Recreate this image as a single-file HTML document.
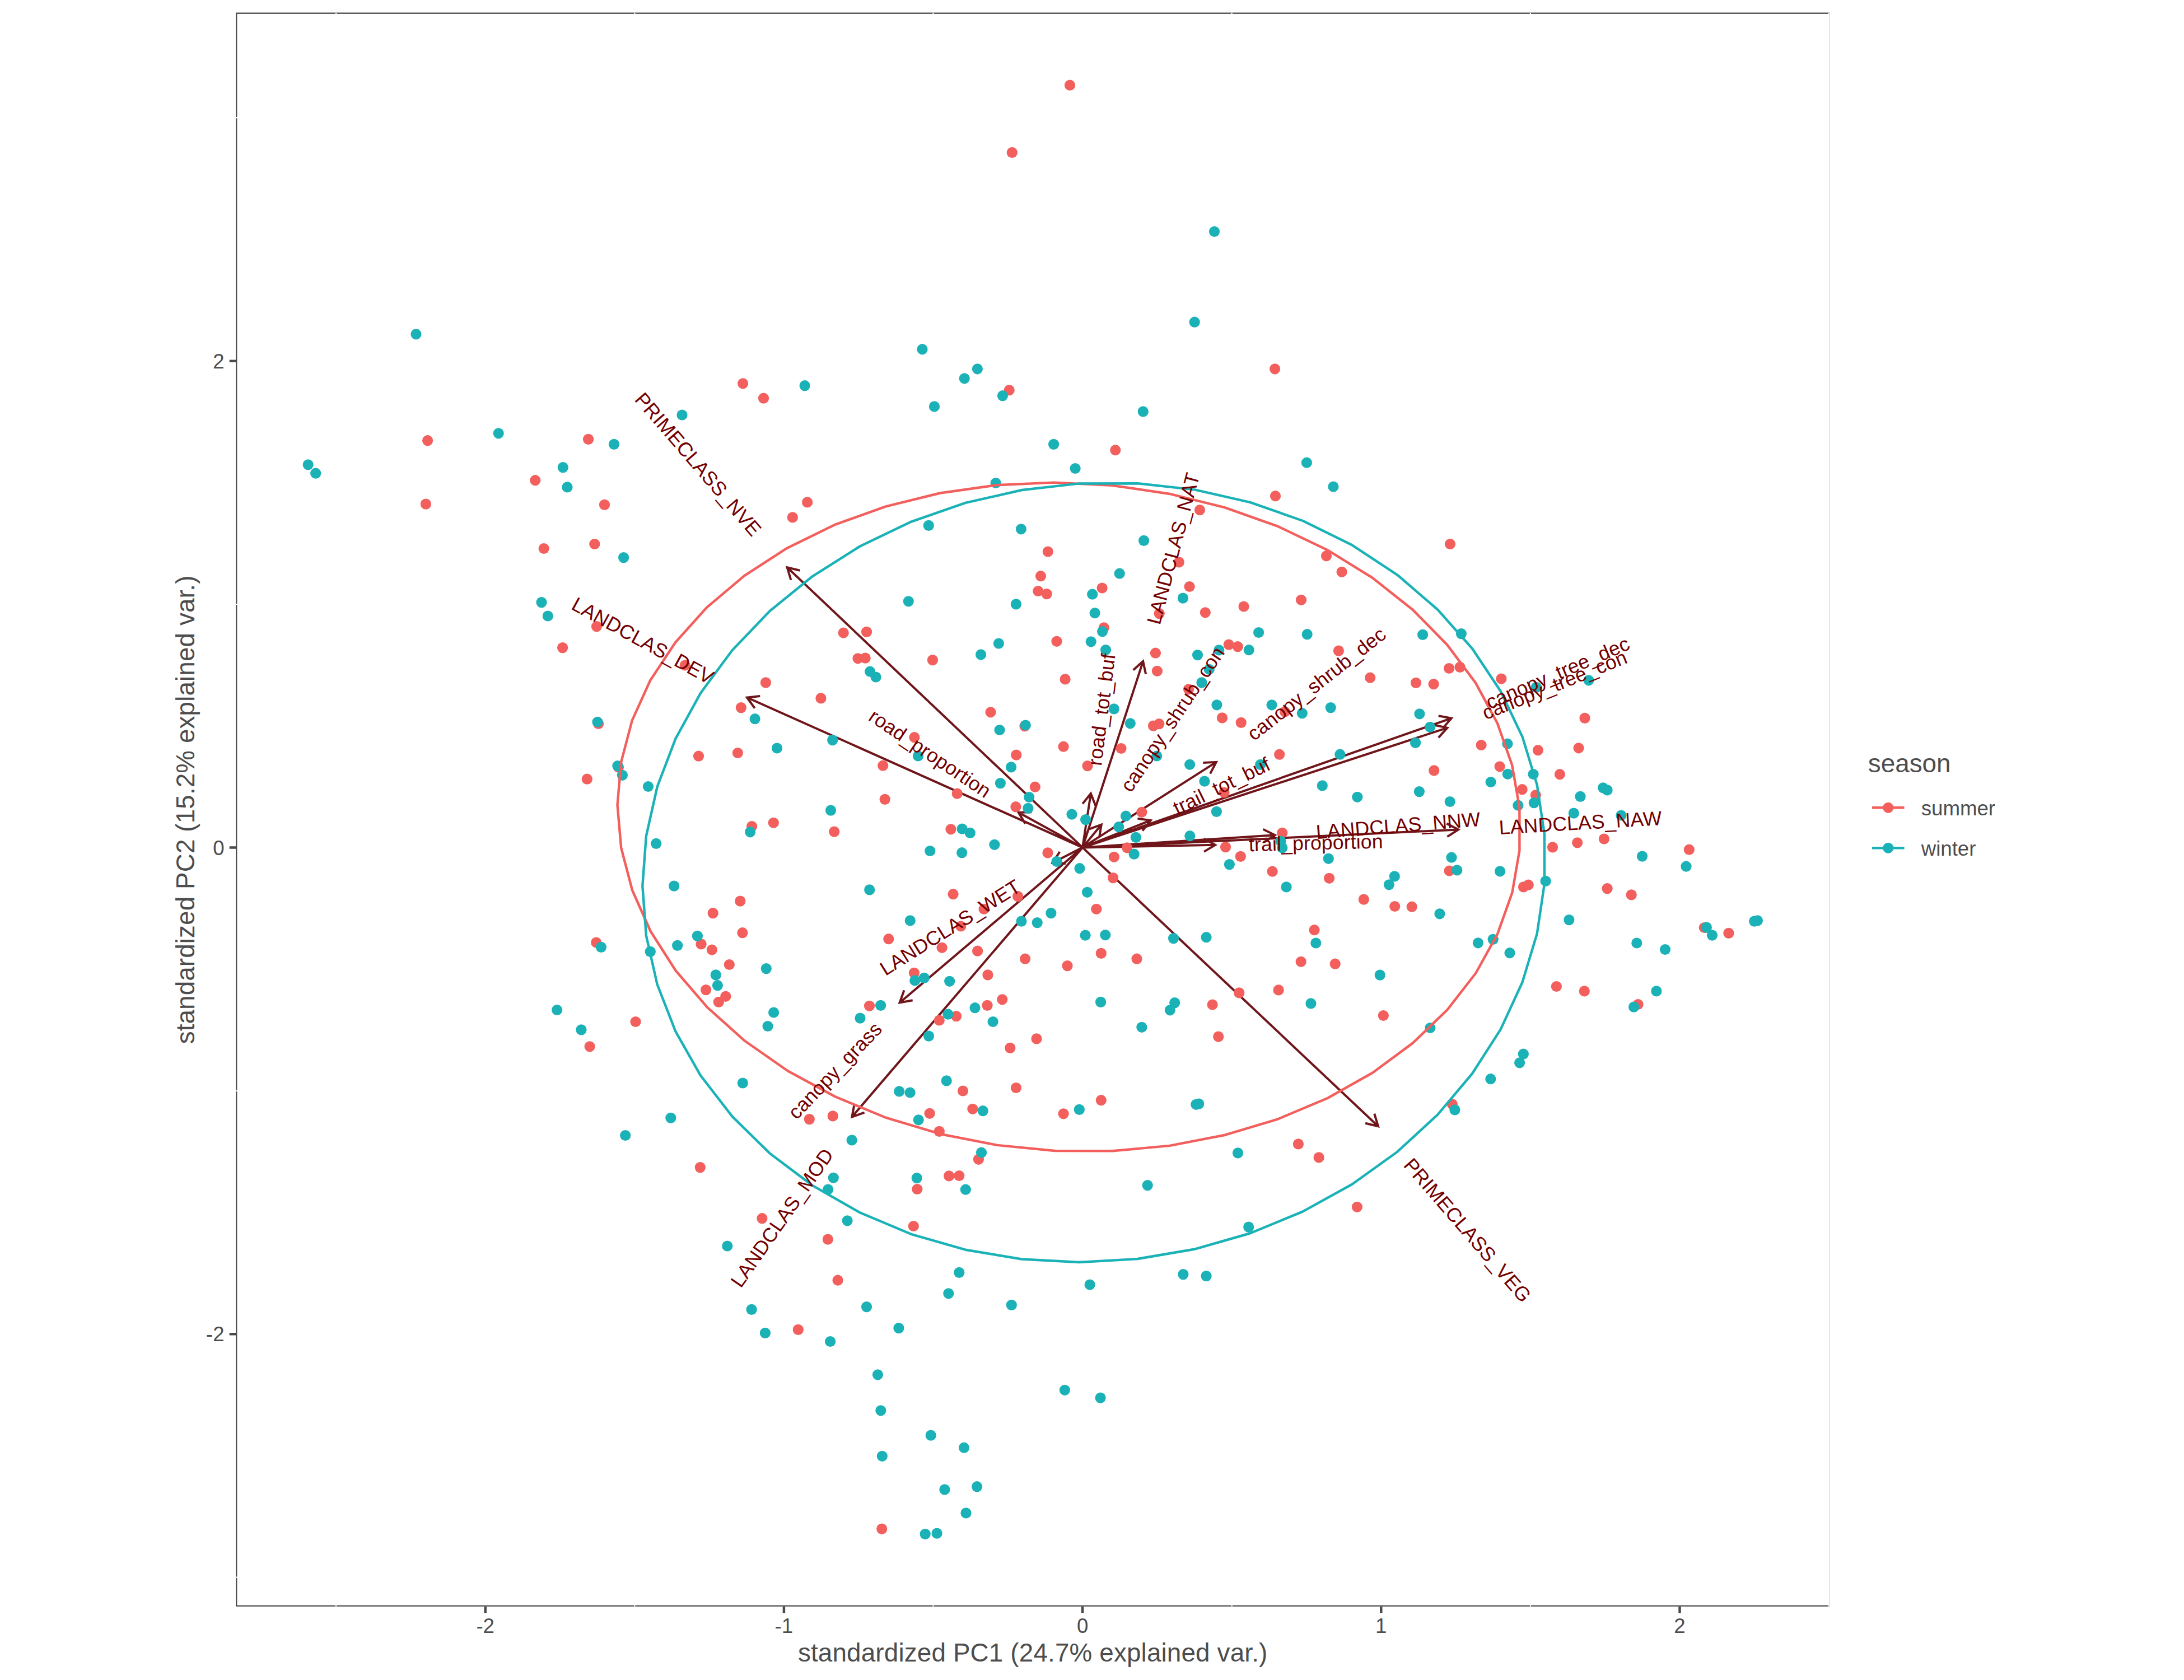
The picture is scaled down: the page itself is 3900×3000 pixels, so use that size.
<!DOCTYPE html>
<html lang="en"><head><meta charset="utf-8"><title>PCA biplot</title>
<style>html,body{margin:0;padding:0;background:#fff}svg{display:block}text{font-family:"Liberation Sans",Arial,Helvetica,sans-serif}</style></head><body>
<svg width="3900" height="3000" viewBox="0 0 3900 3000">
<rect width="3900" height="3000" fill="#fff"/>
<defs><clipPath id="pc"><rect x="421.2" y="22.6" width="2846.3" height="2846.2000000000003"/></clipPath></defs>
<g clip-path="url(#pc)">
<rect x="421.2" y="22.6" width="2846.3" height="2846.2000000000003" fill="none" stroke="#4A4A4A" stroke-width="4.45"/>
<path d="M600.1 22.6V2868.8M1133.3 22.6V2868.8M1666.5 22.6V2868.8M2199.7 22.6V2868.8M2732.9 22.6V2868.8M3266.1 22.6V2868.8M421.2 2816.6H3267.5M421.2 1947.8H3267.5M421.2 1079.0H3267.5M421.2 210.2H3267.5" stroke="#fff" stroke-width="2.2" fill="none"/>
<path d="M3266.25 22.6V2868.8" stroke="#fff" stroke-width="2.7" fill="none"/>
<path d="M1933.1 1513.4L1405.7024153063905 1013.252450796877M1412.4 1035.8L1405.7024153063905 1013.252450796877L1428.6 1018.7M1933.1 1513.4L1333.9516651063066 1245.5325875019073M1347.7 1264.6L1333.9516651063066 1245.5325875019073L1357.3 1243.1M1933.1 1513.4L1818.7091908473665 1450.8197863414348M1830.9 1470.9L1818.7091908473665 1450.8197863414348L1842.2 1450.3M1933.1 1513.4L1947.8935468421626 1416.9537595484992M1933.2 1435.3L1947.8935468421626 1416.9537595484992L1956.4 1438.9M1933.1 1513.4L2041.1639625637813 1180.8042359885087M2023.7 1196.5L2041.1639625637813 1180.8042359885087L2046.1 1203.8M1933.1 1513.4L1966.7586477156199 1472.488936478252M1944.8 1480.7L1966.7586477156199 1472.488936478252L1962.9 1495.7M1933.1 1513.4L2171.829372884818 1360.8538042739308M2148.4 1361.9L2171.829372884818 1360.8538042739308L2161.0 1381.7M1933.1 1513.4L2054.683847575626 1464.979936200928M2031.4 1461.6L2054.683847575626 1464.979936200928L2040.1 1483.4M1933.1 1513.4L2591.825144338618 1282.5230512974686M2568.7 1278.2L2591.825144338618 1282.5230512974686L2576.5 1300.3M1933.1 1513.4L2584.4993916235726 1299.6471471320694M2561.5 1294.8L2584.4993916235726 1299.6471471320694L2568.8 1317.2M1933.1 1513.4L2276.6083583875047 1491.1584516151977M2255.5 1480.7L2276.6083583875047 1491.1584516151977L2257.1 1504.2M1933.1 1513.4L2604.204542189925 1481.3905699029542M2583.3 1470.6L2604.204542189925 1481.3905699029542L2584.4 1494.1M1933.1 1513.4L2170.1007604449255 1508.7779934685016M2149.5 1497.4L2170.1007604449255 1508.7779934685016L2150.0 1520.9M1933.1 1513.4L1879.561345473354 1540.7787865530308M1903.0 1542.0L1879.561345473354 1540.7787865530308L1892.3 1521.1M1933.1 1513.4L1606.5498567067386 1790.5118782740449M1629.7 1786.3L1606.5498567067386 1790.5118782740449L1614.5 1768.4M1933.1 1513.4L1521.4008382997615 1994.4609803984683M1543.6 1986.6L1521.4008382997615 1994.4609803984683L1525.7 1971.4M1933.1 1513.4L2460.990002042075 2011.2555671105176M2454.2 1988.7L2460.990002042075 2011.2555671105176L2438.1 2005.8" stroke="#70161B" stroke-width="4.0" fill="none" stroke-linejoin="miter" stroke-miterlimit="10"/>
<g fill="#F25F5C"><circle cx="1910.5" cy="152.2" r="9.6"/><circle cx="1807.3" cy="272.4" r="9.6"/><circle cx="763.6" cy="786.7" r="9.6"/><circle cx="760.4" cy="900.1" r="9.6"/><circle cx="1050.6" cy="784.4" r="9.6"/><circle cx="955.8" cy="857.7" r="9.6"/><circle cx="1079.5" cy="901.4" r="9.6"/><circle cx="971.2" cy="979.5" r="9.6"/><circle cx="1061.8" cy="971.5" r="9.6"/><circle cx="1326.6" cy="684.8" r="9.6"/><circle cx="1363.5" cy="711.2" r="9.6"/><circle cx="1441.6" cy="896.9" r="9.6"/><circle cx="1415.3" cy="923.9" r="9.6"/><circle cx="1802.2" cy="696.7" r="9.6"/><circle cx="2276.6" cy="658.8" r="9.6"/><circle cx="1991.8" cy="803.7" r="9.6"/><circle cx="2277.5" cy="885.7" r="9.6"/><circle cx="2142.5" cy="910.7" r="9.6"/><circle cx="1871.3" cy="985.0" r="9.6"/><circle cx="2105.3" cy="1003.9" r="9.6"/><circle cx="1858.4" cy="1028.7" r="9.6"/><circle cx="2368.5" cy="992.7" r="9.6"/><circle cx="2396.1" cy="1021.3" r="9.6"/><circle cx="2589.5" cy="971.5" r="9.6"/><circle cx="1065.4" cy="1118.7" r="9.6"/><circle cx="1004.6" cy="1156.6" r="9.6"/><circle cx="1068.6" cy="1292.5" r="9.6"/><circle cx="1048.3" cy="1391.2" r="9.6"/><circle cx="1506.2" cy="1130.0" r="9.6"/><circle cx="1547.5" cy="1128.4" r="9.6"/><circle cx="1531.9" cy="1175.8" r="9.6"/><circle cx="1545.2" cy="1175.1" r="9.6"/><circle cx="1223.2" cy="1188.0" r="9.6"/><circle cx="1367.4" cy="1218.9" r="9.6"/><circle cx="1465.9" cy="1246.9" r="9.6"/><circle cx="1323.4" cy="1263.6" r="9.6"/><circle cx="1247.5" cy="1350.2" r="9.6"/><circle cx="1317.4" cy="1344.5" r="9.6"/><circle cx="1104.5" cy="1370.1" r="9.6"/><circle cx="1853.8" cy="1055.5" r="9.6"/><circle cx="1869.1" cy="1060.6" r="9.6"/><circle cx="1968.1" cy="1050.0" r="9.6"/><circle cx="1971.3" cy="1120.8" r="9.6"/><circle cx="1887.0" cy="1145.3" r="9.6"/><circle cx="1665.4" cy="1178.6" r="9.6"/><circle cx="1902.1" cy="1212.9" r="9.6"/><circle cx="1769.0" cy="1271.8" r="9.6"/><circle cx="1829.9" cy="1296.6" r="9.6"/><circle cx="1632.9" cy="1316.7" r="9.6"/><circle cx="1899.1" cy="1333.2" r="9.6"/><circle cx="1814.8" cy="1348.1" r="9.6"/><circle cx="1576.7" cy="1367.2" r="9.6"/><circle cx="1942.0" cy="1367.6" r="9.6"/><circle cx="2002.0" cy="1336.5" r="9.6"/><circle cx="2124.1" cy="1047.5" r="9.6"/><circle cx="2070.2" cy="1095.6" r="9.6"/><circle cx="2152.3" cy="1093.8" r="9.6"/><circle cx="2221.0" cy="1083.0" r="9.6"/><circle cx="2323.5" cy="1071.3" r="9.6"/><circle cx="2063.4" cy="1166.2" r="9.6"/><circle cx="2066.4" cy="1198.3" r="9.6"/><circle cx="2194.2" cy="1151.1" r="9.6"/><circle cx="2210.3" cy="1154.7" r="9.6"/><circle cx="2390.4" cy="1162.1" r="9.6"/><circle cx="2446.7" cy="1210.2" r="9.6"/><circle cx="2528.5" cy="1219.4" r="9.6"/><circle cx="2122.5" cy="1230.8" r="9.6"/><circle cx="2182.5" cy="1281.9" r="9.6"/><circle cx="2216.2" cy="1290.4" r="9.6"/><circle cx="2294.4" cy="1270.9" r="9.6"/><circle cx="2059.5" cy="1296.1" r="9.6"/><circle cx="2069.8" cy="1292.7" r="9.6"/><circle cx="2284.7" cy="1347.2" r="9.6"/><circle cx="2560.1" cy="1221.6" r="9.6"/><circle cx="2587.6" cy="1193.5" r="9.6"/><circle cx="2607.1" cy="1191.4" r="9.6"/><circle cx="2680.9" cy="1212.0" r="9.6"/><circle cx="2830.0" cy="1282.4" r="9.6"/><circle cx="2645.1" cy="1330.5" r="9.6"/><circle cx="2746.4" cy="1339.7" r="9.6"/><circle cx="2819.0" cy="1335.8" r="9.6"/><circle cx="2560.8" cy="1375.9" r="9.6"/><circle cx="2678.1" cy="1368.8" r="9.6"/><circle cx="2785.4" cy="1382.7" r="9.6"/><circle cx="1064.7" cy="1683.0" r="9.6"/><circle cx="1053.1" cy="1868.8" r="9.6"/><circle cx="1342.6" cy="1475.5" r="9.6"/><circle cx="1381.3" cy="1469.3" r="9.6"/><circle cx="1489.7" cy="1485.1" r="9.6"/><circle cx="1321.8" cy="1609.1" r="9.6"/><circle cx="1273.2" cy="1630.6" r="9.6"/><circle cx="1325.9" cy="1665.7" r="9.6"/><circle cx="1252.1" cy="1685.9" r="9.6"/><circle cx="1271.3" cy="1696.0" r="9.6"/><circle cx="1302.3" cy="1722.5" r="9.6"/><circle cx="1580.2" cy="1427.4" r="9.6"/><circle cx="1709.2" cy="1417.1" r="9.6"/><circle cx="1848.3" cy="1405.2" r="9.6"/><circle cx="1813.9" cy="1440.7" r="9.6"/><circle cx="2038.9" cy="1450.3" r="9.6"/><circle cx="1697.9" cy="1480.8" r="9.6"/><circle cx="1871.0" cy="1522.9" r="9.6"/><circle cx="2012.6" cy="1513.8" r="9.6"/><circle cx="1989.4" cy="1530.3" r="9.6"/><circle cx="1987.6" cy="1567.6" r="9.6"/><circle cx="1702.1" cy="1596.7" r="9.6"/><circle cx="1817.6" cy="1600.6" r="9.6"/><circle cx="1757.1" cy="1623.3" r="9.6"/><circle cx="1957.8" cy="1623.3" r="9.6"/><circle cx="1715.8" cy="1654.0" r="9.6"/><circle cx="1586.8" cy="1676.7" r="9.6"/><circle cx="1682.1" cy="1692.3" r="9.6"/><circle cx="1745.6" cy="1698.2" r="9.6"/><circle cx="1830.6" cy="1712.2" r="9.6"/><circle cx="1966.3" cy="1702.4" r="9.6"/><circle cx="2030.0" cy="1712.2" r="9.6"/><circle cx="1906.0" cy="1724.6" r="9.6"/><circle cx="1632.4" cy="1737.4" r="9.6"/><circle cx="1763.9" cy="1740.9" r="9.6"/><circle cx="2186.0" cy="1415.2" r="9.6"/><circle cx="2289.8" cy="1487.4" r="9.6"/><circle cx="2188.5" cy="1512.6" r="9.6"/><circle cx="2215.3" cy="1529.4" r="9.6"/><circle cx="2272.1" cy="1556.2" r="9.6"/><circle cx="2373.6" cy="1568.3" r="9.6"/><circle cx="2435.3" cy="1606.1" r="9.6"/><circle cx="2490.7" cy="1618.5" r="9.6"/><circle cx="2521.2" cy="1619.2" r="9.6"/><circle cx="2347.1" cy="1660.7" r="9.6"/><circle cx="2323.2" cy="1717.3" r="9.6"/><circle cx="2384.2" cy="1721.2" r="9.6"/><circle cx="2718.2" cy="1409.7" r="9.6"/><circle cx="2742.3" cy="1419.8" r="9.6"/><circle cx="2772.5" cy="1512.9" r="9.6"/><circle cx="2816.7" cy="1504.8" r="9.6"/><circle cx="2864.4" cy="1498.0" r="9.6"/><circle cx="2588.1" cy="1555.0" r="9.6"/><circle cx="2720.5" cy="1583.9" r="9.6"/><circle cx="2729.2" cy="1580.2" r="9.6"/><circle cx="2870.1" cy="1586.6" r="9.6"/><circle cx="2913.2" cy="1597.9" r="9.6"/><circle cx="2779.4" cy="1761.5" r="9.6"/><circle cx="3016.3" cy="1517.2" r="9.6"/><circle cx="3043.3" cy="1656.5" r="9.6"/><circle cx="3086.9" cy="1666.4" r="9.6"/><circle cx="1260.6" cy="1767.6" r="9.6"/><circle cx="1295.9" cy="1779.3" r="9.6"/><circle cx="1283.3" cy="1789.4" r="9.6"/><circle cx="1135.0" cy="1824.5" r="9.6"/><circle cx="1552.5" cy="1796.3" r="9.6"/><circle cx="1445.3" cy="1998.6" r="9.6"/><circle cx="1487.2" cy="1992.9" r="9.6"/><circle cx="1250.3" cy="2084.6" r="9.6"/><circle cx="1789.8" cy="1784.8" r="9.6"/><circle cx="1763.0" cy="1795.4" r="9.6"/><circle cx="1707.6" cy="1814.6" r="9.6"/><circle cx="1677.3" cy="1822.0" r="9.6"/><circle cx="1851.0" cy="1854.9" r="9.6"/><circle cx="1803.8" cy="1871.4" r="9.6"/><circle cx="1814.4" cy="1942.5" r="9.6"/><circle cx="1719.5" cy="1948.0" r="9.6"/><circle cx="1736.9" cy="1980.3" r="9.6"/><circle cx="1660.1" cy="1988.3" r="9.6"/><circle cx="1966.3" cy="1964.7" r="9.6"/><circle cx="1899.1" cy="1988.8" r="9.6"/><circle cx="1677.3" cy="2020.4" r="9.6"/><circle cx="1747.4" cy="2070.3" r="9.6"/><circle cx="1694.7" cy="2099.9" r="9.6"/><circle cx="1712.8" cy="2099.5" r="9.6"/><circle cx="1637.9" cy="2123.5" r="9.6"/><circle cx="2212.8" cy="1772.9" r="9.6"/><circle cx="2283.1" cy="1767.9" r="9.6"/><circle cx="2165.1" cy="1794.0" r="9.6"/><circle cx="2175.7" cy="1851.1" r="9.6"/><circle cx="2470.3" cy="1813.5" r="9.6"/><circle cx="2318.4" cy="2042.9" r="9.6"/><circle cx="2355.1" cy="2066.9" r="9.6"/><circle cx="2829.3" cy="1769.9" r="9.6"/><circle cx="2925.1" cy="1793.5" r="9.6"/><circle cx="2593.3" cy="1971.8" r="9.6"/><circle cx="1360.9" cy="2175.7" r="9.6"/><circle cx="1478.3" cy="2213.1" r="9.6"/><circle cx="1496.1" cy="2286.2" r="9.6"/><circle cx="1425.3" cy="2374.4" r="9.6"/><circle cx="1631.3" cy="2189.5" r="9.6"/><circle cx="2423.4" cy="2155.3" r="9.6"/><circle cx="1574.7" cy="2730.1" r="9.6"/></g>
<g fill="#1AB2B7"><circle cx="2168.5" cy="413.5" r="9.6"/><circle cx="2133.2" cy="575.2" r="9.6"/><circle cx="743.0" cy="596.7" r="9.6"/><circle cx="550.2" cy="829.8" r="9.6"/><circle cx="563.7" cy="845.2" r="9.6"/><circle cx="890.2" cy="773.8" r="9.6"/><circle cx="1096.5" cy="793.4" r="9.6"/><circle cx="1005.3" cy="834.6" r="9.6"/><circle cx="1013.0" cy="869.9" r="9.6"/><circle cx="1113.6" cy="995.6" r="9.6"/><circle cx="1647.0" cy="623.7" r="9.6"/><circle cx="1745.4" cy="658.8" r="9.6"/><circle cx="1722.2" cy="675.8" r="9.6"/><circle cx="1790.4" cy="706.7" r="9.6"/><circle cx="1668.5" cy="725.9" r="9.6"/><circle cx="1437.1" cy="688.7" r="9.6"/><circle cx="1218.0" cy="741.0" r="9.6"/><circle cx="1778.1" cy="862.5" r="9.6"/><circle cx="1658.3" cy="938.4" r="9.6"/><circle cx="2041.3" cy="734.9" r="9.6"/><circle cx="1881.6" cy="793.4" r="9.6"/><circle cx="1920.1" cy="836.5" r="9.6"/><circle cx="2333.4" cy="826.2" r="9.6"/><circle cx="2381.0" cy="869.0" r="9.6"/><circle cx="1823.4" cy="944.8" r="9.6"/><circle cx="2042.6" cy="965.4" r="9.6"/><circle cx="1999.2" cy="1024.2" r="9.6"/><circle cx="967.0" cy="1075.6" r="9.6"/><circle cx="978.3" cy="1100.0" r="9.6"/><circle cx="1067.0" cy="1289.3" r="9.6"/><circle cx="1553.6" cy="1199.2" r="9.6"/><circle cx="1564.0" cy="1209.0" r="9.6"/><circle cx="1348.1" cy="1283.7" r="9.6"/><circle cx="1486.7" cy="1321.6" r="9.6"/><circle cx="1387.5" cy="1336.0" r="9.6"/><circle cx="1102.9" cy="1367.6" r="9.6"/><circle cx="1111.4" cy="1384.3" r="9.6"/><circle cx="1622.3" cy="1073.8" r="9.6"/><circle cx="1814.4" cy="1078.9" r="9.6"/><circle cx="1950.7" cy="1061.2" r="9.6"/><circle cx="1955.1" cy="1094.7" r="9.6"/><circle cx="1968.6" cy="1127.7" r="9.6"/><circle cx="1948.2" cy="1145.8" r="9.6"/><circle cx="1783.4" cy="1149.0" r="9.6"/><circle cx="1751.6" cy="1168.9" r="9.6"/><circle cx="1974.5" cy="1160.5" r="9.6"/><circle cx="1989.2" cy="1265.9" r="9.6"/><circle cx="1831.3" cy="1295.0" r="9.6"/><circle cx="1785.0" cy="1303.5" r="9.6"/><circle cx="2018.3" cy="1291.8" r="9.6"/><circle cx="1639.5" cy="1350.0" r="9.6"/><circle cx="1805.6" cy="1369.9" r="9.6"/><circle cx="1786.4" cy="1398.6" r="9.6"/><circle cx="2112.4" cy="1068.1" r="9.6"/><circle cx="2247.6" cy="1129.5" r="9.6"/><circle cx="2334.2" cy="1132.7" r="9.6"/><circle cx="2176.8" cy="1160.9" r="9.6"/><circle cx="2230.2" cy="1160.7" r="9.6"/><circle cx="2138.5" cy="1169.6" r="9.6"/><circle cx="2159.2" cy="1195.3" r="9.6"/><circle cx="2145.9" cy="1218.9" r="9.6"/><circle cx="2172.9" cy="1258.8" r="9.6"/><circle cx="2271.0" cy="1258.8" r="9.6"/><circle cx="2325.3" cy="1273.7" r="9.6"/><circle cx="2376.2" cy="1263.6" r="9.6"/><circle cx="2065.7" cy="1350.0" r="9.6"/><circle cx="2124.6" cy="1365.3" r="9.6"/><circle cx="2250.8" cy="1365.3" r="9.6"/><circle cx="2527.6" cy="1326.4" r="9.6"/><circle cx="2392.9" cy="1347.2" r="9.6"/><circle cx="2150.9" cy="1395.1" r="9.6"/><circle cx="2540.6" cy="1133.4" r="9.6"/><circle cx="2609.4" cy="1131.6" r="9.6"/><circle cx="2743.4" cy="1227.4" r="9.6"/><circle cx="2836.9" cy="1214.8" r="9.6"/><circle cx="2534.9" cy="1274.8" r="9.6"/><circle cx="2553.7" cy="1298.4" r="9.6"/><circle cx="2691.9" cy="1328.2" r="9.6"/><circle cx="2692.3" cy="1382.3" r="9.6"/><circle cx="2738.1" cy="1382.5" r="9.6"/><circle cx="2662.1" cy="1396.5" r="9.6"/><circle cx="1073.4" cy="1691.4" r="9.6"/><circle cx="994.7" cy="1803.5" r="9.6"/><circle cx="1038.0" cy="1838.9" r="9.6"/><circle cx="1157.5" cy="1404.5" r="9.6"/><circle cx="1483.5" cy="1447.1" r="9.6"/><circle cx="1339.6" cy="1485.8" r="9.6"/><circle cx="1171.7" cy="1506.4" r="9.6"/><circle cx="1203.7" cy="1582.1" r="9.6"/><circle cx="1552.7" cy="1588.9" r="9.6"/><circle cx="1245.4" cy="1671.4" r="9.6"/><circle cx="1209.7" cy="1688.4" r="9.6"/><circle cx="1161.3" cy="1699.4" r="9.6"/><circle cx="1368.3" cy="1729.6" r="9.6"/><circle cx="1278.2" cy="1740.9" r="9.6"/><circle cx="1281.4" cy="1759.7" r="9.6"/><circle cx="1837.7" cy="1423.5" r="9.6"/><circle cx="1835.9" cy="1443.4" r="9.6"/><circle cx="1914.0" cy="1454.2" r="9.6"/><circle cx="1938.6" cy="1463.6" r="9.6"/><circle cx="2010.5" cy="1457.2" r="9.6"/><circle cx="1997.7" cy="1476.7" r="9.6"/><circle cx="1718.1" cy="1480.1" r="9.6"/><circle cx="1732.3" cy="1487.4" r="9.6"/><circle cx="2028.4" cy="1495.4" r="9.6"/><circle cx="1775.9" cy="1508.3" r="9.6"/><circle cx="1660.8" cy="1519.5" r="9.6"/><circle cx="1717.7" cy="1522.7" r="9.6"/><circle cx="2025.2" cy="1525.2" r="9.6"/><circle cx="1887.0" cy="1538.5" r="9.6"/><circle cx="1928.0" cy="1550.7" r="9.6"/><circle cx="1941.5" cy="1593.3" r="9.6"/><circle cx="1876.9" cy="1630.6" r="9.6"/><circle cx="1625.3" cy="1643.9" r="9.6"/><circle cx="1824.0" cy="1645.1" r="9.6"/><circle cx="1852.2" cy="1647.6" r="9.6"/><circle cx="1938.1" cy="1670.1" r="9.6"/><circle cx="1973.8" cy="1669.6" r="9.6"/><circle cx="1633.8" cy="1750.9" r="9.6"/><circle cx="1650.3" cy="1746.4" r="9.6"/><circle cx="1695.7" cy="1752.3" r="9.6"/><circle cx="2361.3" cy="1402.9" r="9.6"/><circle cx="2423.8" cy="1423.3" r="9.6"/><circle cx="2172.4" cy="1449.4" r="9.6"/><circle cx="2124.8" cy="1492.7" r="9.6"/><circle cx="2287.0" cy="1502.3" r="9.6"/><circle cx="2289.8" cy="1514.0" r="9.6"/><circle cx="2372.3" cy="1533.3" r="9.6"/><circle cx="2195.4" cy="1543.6" r="9.6"/><circle cx="2297.1" cy="1583.9" r="9.6"/><circle cx="2490.3" cy="1564.9" r="9.6"/><circle cx="2480.4" cy="1579.8" r="9.6"/><circle cx="2095.5" cy="1675.6" r="9.6"/><circle cx="2154.1" cy="1673.7" r="9.6"/><circle cx="2349.8" cy="1684.0" r="9.6"/><circle cx="2464.2" cy="1741.1" r="9.6"/><circle cx="2534.4" cy="1413.6" r="9.6"/><circle cx="2589.2" cy="1431.5" r="9.6"/><circle cx="2710.9" cy="1438.2" r="9.6"/><circle cx="2739.3" cy="1433.6" r="9.6"/><circle cx="2822.0" cy="1422.4" r="9.6"/><circle cx="2862.6" cy="1406.8" r="9.6"/><circle cx="2870.1" cy="1410.9" r="9.6"/><circle cx="2810.3" cy="1452.1" r="9.6"/><circle cx="2894.9" cy="1456.0" r="9.6"/><circle cx="2592.0" cy="1531.2" r="9.6"/><circle cx="2601.8" cy="1553.9" r="9.6"/><circle cx="2678.6" cy="1555.9" r="9.6"/><circle cx="2932.5" cy="1529.1" r="9.6"/><circle cx="2760.1" cy="1573.4" r="9.6"/><circle cx="2570.9" cy="1631.8" r="9.6"/><circle cx="2801.9" cy="1642.6" r="9.6"/><circle cx="2639.4" cy="1683.8" r="9.6"/><circle cx="2666.2" cy="1677.4" r="9.6"/><circle cx="2696.0" cy="1701.7" r="9.6"/><circle cx="2922.8" cy="1684.0" r="9.6"/><circle cx="2973.5" cy="1695.5" r="9.6"/><circle cx="3011.0" cy="1547.2" r="9.6"/><circle cx="3047.4" cy="1656.1" r="9.6"/><circle cx="3057.5" cy="1670.1" r="9.6"/><circle cx="3132.7" cy="1645.1" r="9.6"/><circle cx="3138.4" cy="1643.9" r="9.6"/><circle cx="1381.6" cy="1808.0" r="9.6"/><circle cx="1371.0" cy="1832.5" r="9.6"/><circle cx="1536.0" cy="1818.1" r="9.6"/><circle cx="1326.3" cy="1934.0" r="9.6"/><circle cx="1197.8" cy="1996.3" r="9.6"/><circle cx="1116.7" cy="2027.5" r="9.6"/><circle cx="1521.1" cy="2036.0" r="9.6"/><circle cx="1488.3" cy="2103.3" r="9.6"/><circle cx="1478.7" cy="2124.0" r="9.6"/><circle cx="1572.6" cy="1795.4" r="9.6"/><circle cx="1741.0" cy="1799.7" r="9.6"/><circle cx="1692.9" cy="1811.2" r="9.6"/><circle cx="1773.1" cy="1824.5" r="9.6"/><circle cx="1658.5" cy="1850.1" r="9.6"/><circle cx="1965.6" cy="1789.4" r="9.6"/><circle cx="2038.9" cy="1834.3" r="9.6"/><circle cx="1690.2" cy="1929.9" r="9.6"/><circle cx="1605.8" cy="1948.9" r="9.6"/><circle cx="1625.1" cy="1951.0" r="9.6"/><circle cx="1755.2" cy="1983.7" r="9.6"/><circle cx="1927.3" cy="1981.4" r="9.6"/><circle cx="1640.2" cy="1999.8" r="9.6"/><circle cx="1752.5" cy="2058.2" r="9.6"/><circle cx="1637.2" cy="2103.6" r="9.6"/><circle cx="1724.3" cy="2124.2" r="9.6"/><circle cx="2049.2" cy="2116.6" r="9.6"/><circle cx="2097.7" cy="1790.6" r="9.6"/><circle cx="2089.3" cy="1803.8" r="9.6"/><circle cx="2340.9" cy="1791.9" r="9.6"/><circle cx="2135.8" cy="1972.3" r="9.6"/><circle cx="2140.8" cy="1971.1" r="9.6"/><circle cx="2210.5" cy="2058.9" r="9.6"/><circle cx="2957.9" cy="1769.9" r="9.6"/><circle cx="2917.6" cy="1798.1" r="9.6"/><circle cx="2553.9" cy="1835.5" r="9.6"/><circle cx="2720.3" cy="1882.2" r="9.6"/><circle cx="2713.6" cy="1897.8" r="9.6"/><circle cx="2661.8" cy="1926.7" r="9.6"/><circle cx="2597.9" cy="1981.9" r="9.6"/><circle cx="1513.1" cy="2179.8" r="9.6"/><circle cx="1298.8" cy="2225.0" r="9.6"/><circle cx="1342.1" cy="2338.4" r="9.6"/><circle cx="1547.5" cy="2333.6" r="9.6"/><circle cx="1366.4" cy="2380.4" r="9.6"/><circle cx="1482.6" cy="2395.5" r="9.6"/><circle cx="1567.4" cy="2454.8" r="9.6"/><circle cx="1712.8" cy="2272.4" r="9.6"/><circle cx="1693.8" cy="2309.8" r="9.6"/><circle cx="1946.1" cy="2294.0" r="9.6"/><circle cx="1806.3" cy="2330.4" r="9.6"/><circle cx="1604.9" cy="2371.6" r="9.6"/><circle cx="1901.4" cy="2482.3" r="9.6"/><circle cx="2229.7" cy="2191.1" r="9.6"/><circle cx="2112.9" cy="2275.6" r="9.6"/><circle cx="2154.1" cy="2278.6" r="9.6"/><circle cx="1965.1" cy="2496.1" r="9.6"/><circle cx="1572.8" cy="2518.8" r="9.6"/><circle cx="1662.2" cy="2563.1" r="9.6"/><circle cx="1721.5" cy="2585.2" r="9.6"/><circle cx="1575.3" cy="2600.3" r="9.6"/><circle cx="1686.9" cy="2659.9" r="9.6"/><circle cx="1744.6" cy="2654.7" r="9.6"/><circle cx="1725.0" cy="2701.9" r="9.6"/><circle cx="1652.2" cy="2739.4" r="9.6"/><circle cx="1673.1" cy="2738.1" r="9.6"/></g>
<path d="M1109.1 1361.2L1128.7 1286.7L1161.2 1214.9L1206.0 1147.2L1262.3 1084.6L1329.2 1028.1L1405.6 978.7L1490.3 937.2L1581.9 904.3L1678.8 880.5L1779.5 866.2L1882.4 861.6L1985.6 866.8L2087.6 881.7L2186.7 906.1L2281.2 939.6L2369.6 981.7L2450.4 1031.5L2522.3 1088.4L2584.2 1151.4L2635.0 1219.4L2673.8 1291.3L2700.1 1366.0L2713.4 1442.3L2713.4 1518.8L2700.3 1594.3L2674.2 1667.6L2635.5 1737.5L2584.8 1802.8L2523.1 1862.4L2451.3 1915.5L2370.6 1961.0L2282.2 1998.3L2187.8 2026.7L2088.8 2045.9L1986.8 2055.3L1883.5 2055.0L1780.7 2044.9L1680.0 2025.2L1583.0 1996.2L1491.3 1958.3L1406.6 1912.3L1330.0 1858.8L1263.0 1798.8L1206.6 1733.2L1161.7 1663.0L1129.0 1589.5L1109.2 1513.9L1102.5 1437.4Z" fill="none" stroke="#F25F5C" stroke-width="4.45" stroke-linejoin="round"/>
<path d="M1147.3 1582.0L1153.9 1492.9L1173.7 1404.8L1206.3 1319.2L1251.1 1237.6L1307.5 1161.2L1374.5 1091.3L1451.0 1029.1L1535.7 975.5L1627.3 931.6L1724.2 897.9L1825.0 875.0L1927.8 863.4L2031.0 863.2L2133.0 874.4L2232.0 896.8L2326.5 930.0L2414.8 973.6L2495.5 1026.8L2567.4 1088.7L2629.1 1158.2L2679.8 1234.4L2718.6 1315.9L2744.7 1401.3L2757.9 1489.3L2757.9 1578.5L2744.7 1667.3L2718.4 1754.3L2679.7 1838.1L2628.9 1917.3L2567.1 1990.6L2495.3 2056.7L2414.5 2114.7L2326.1 2163.6L2231.7 2202.5L2132.6 2230.8L2030.7 2248.1L1927.4 2254.0L1824.6 2248.5L1723.9 2231.7L1627.0 2203.8L1535.4 2165.3L1450.7 2116.9L1374.2 2059.2L1307.3 1993.3L1250.9 1920.3L1206.1 1841.3L1173.6 1757.7L1153.9 1670.8Z" fill="none" stroke="#1AB2B7" stroke-width="4.45" stroke-linejoin="round"/>
<text transform="translate(1405.7 1013.3) rotate(49.33)" x="-81.1" y="12.8" font-size="35.57" fill="#730000" text-anchor="end" letter-spacing="0.15">PRIMECLASS_NVE</text>
<text transform="translate(1334.0 1245.5) rotate(28.76)" x="-70.6" y="12.8" font-size="35.57" fill="#730000" text-anchor="end" letter-spacing="0.15">LANDCLAS_DEV</text>
<text transform="translate(1818.7 1450.8) rotate(33.88)" x="-63.3" y="12.8" font-size="35.57" fill="#730000" text-anchor="end" letter-spacing="0.15">road_proportion</text>
<text transform="translate(1947.9 1417.0) rotate(-82.88)" x="50.4" y="12.8" font-size="35.57" fill="#730000" text-anchor="start" letter-spacing="0.15">road_tot_buf</text>
<text transform="translate(2041.2 1180.8) rotate(-75.17)" x="69.5" y="12.8" font-size="35.57" fill="#730000" text-anchor="start" letter-spacing="0.15">LANDCLAS_NAT</text>
<text transform="translate(1966.8 1472.5) rotate(-56.17)" x="75.7" y="12.8" font-size="35.57" fill="#730000" text-anchor="start" letter-spacing="0.15">canopy_shrub_con</text>
<text transform="translate(2171.8 1360.9) rotate(-38.11)" x="75.7" y="12.8" font-size="35.57" fill="#730000" text-anchor="start" letter-spacing="0.15">canopy_shrub_dec</text>
<text transform="translate(2054.7 1465.0) rotate(-26.05)" x="47.0" y="12.8" font-size="35.57" fill="#730000" text-anchor="start" letter-spacing="0.15">trail_tot_buf</text>
<text transform="translate(2591.8 1282.5) rotate(-23.28)" x="68.8" y="12.8" font-size="35.57" fill="#730000" text-anchor="start" letter-spacing="0.15">canopy_tree_dec</text>
<text transform="translate(2584.5 1299.6) rotate(-21.94)" x="68.8" y="12.8" font-size="35.57" fill="#730000" text-anchor="start" letter-spacing="0.15">canopy_tree_con</text>
<text transform="translate(2276.6 1491.2) rotate(-4.54)" x="73.6" y="12.8" font-size="35.57" fill="#730000" text-anchor="start" letter-spacing="0.15">LANDCLAS_NNW</text>
<text transform="translate(2604.2 1481.4) rotate(-3.35)" x="72.8" y="12.8" font-size="35.57" fill="#730000" text-anchor="start" letter-spacing="0.15">LANDCLAS_NAW</text>
<text transform="translate(2170.1 1508.8) rotate(-1.37)" x="59.9" y="12.8" font-size="35.57" fill="#730000" text-anchor="start" letter-spacing="0.15">trail_proportion</text>
<text transform="translate(1879.6 1540.8) rotate(-32.12)" x="-72.1" y="12.8" font-size="35.57" fill="#730000" text-anchor="end" letter-spacing="0.15">LANDCLAS_WET</text>
<text transform="translate(1606.5 1790.5) rotate(-46.17)" x="-55.8" y="12.8" font-size="35.57" fill="#730000" text-anchor="end" letter-spacing="0.15">canopy_grass</text>
<text transform="translate(1521.4 1994.5) rotate(-55.11)" x="-73.1" y="12.8" font-size="35.57" fill="#730000" text-anchor="end" letter-spacing="0.15">LANDCLAS_MOD</text>
<text transform="translate(2461.0 2011.3) rotate(49.18)" x="81.6" y="12.8" font-size="35.57" fill="#730000" text-anchor="start" letter-spacing="0.15">PRIMECLASS_VEG</text>
</g>
<path d="M866.7 2868.8v11.5M1399.9 2868.8v11.5M1933.1 2868.8v11.5M2466.3 2868.8v11.5M2999.5 2868.8v11.5M421.2 2382.2h-11.5M421.2 1513.4h-11.5M421.2 644.6h-11.5" stroke="#4A4A4A" stroke-width="4.45" fill="none"/>
<text x="866.7" y="2916" font-size="36.67" fill="#4D4D4D" text-anchor="middle">-2</text>
<text x="1399.9" y="2916" font-size="36.67" fill="#4D4D4D" text-anchor="middle">-1</text>
<text x="1933.1" y="2916" font-size="36.67" fill="#4D4D4D" text-anchor="middle">0</text>
<text x="2466.3" y="2916" font-size="36.67" fill="#4D4D4D" text-anchor="middle">1</text>
<text x="2999.5" y="2916" font-size="36.67" fill="#4D4D4D" text-anchor="middle">2</text>
<text x="400.6" y="2395.3" font-size="36.67" fill="#4D4D4D" text-anchor="end">-2</text>
<text x="400.6" y="1526.5" font-size="36.67" fill="#4D4D4D" text-anchor="end">0</text>
<text x="400.6" y="657.7" font-size="36.67" fill="#4D4D4D" text-anchor="end">2</text>
<text x="1844.2" y="2967.2" font-size="45.83" fill="#4D4D4D" text-anchor="middle" letter-spacing="0.14">standardized PC1 (24.7% explained var.)</text>
<text transform="translate(347 1445.9) rotate(-90)" font-size="45.83" fill="#4D4D4D" text-anchor="middle" letter-spacing="0.1">standardized PC2 (15.2% explained var.)</text>
<text x="3335.8" y="1379.1" font-size="45.83" fill="#4D4D4D">season</text>
<path d="M3343 1442.3h57.6" stroke="#F25F5C" stroke-width="4.45"/><circle cx="3371.8" cy="1442.3" r="9.6" fill="#F25F5C"/>
<text x="3430.7" y="1456.2" font-size="36.67" fill="#4D4D4D">summer</text>
<path d="M3343 1514.3h57.6" stroke="#1AB2B7" stroke-width="4.45"/><circle cx="3371.8" cy="1514.3" r="9.6" fill="#1AB2B7"/>
<text x="3430.7" y="1528.2" font-size="36.67" fill="#4D4D4D">winter</text>
</svg></body></html>
